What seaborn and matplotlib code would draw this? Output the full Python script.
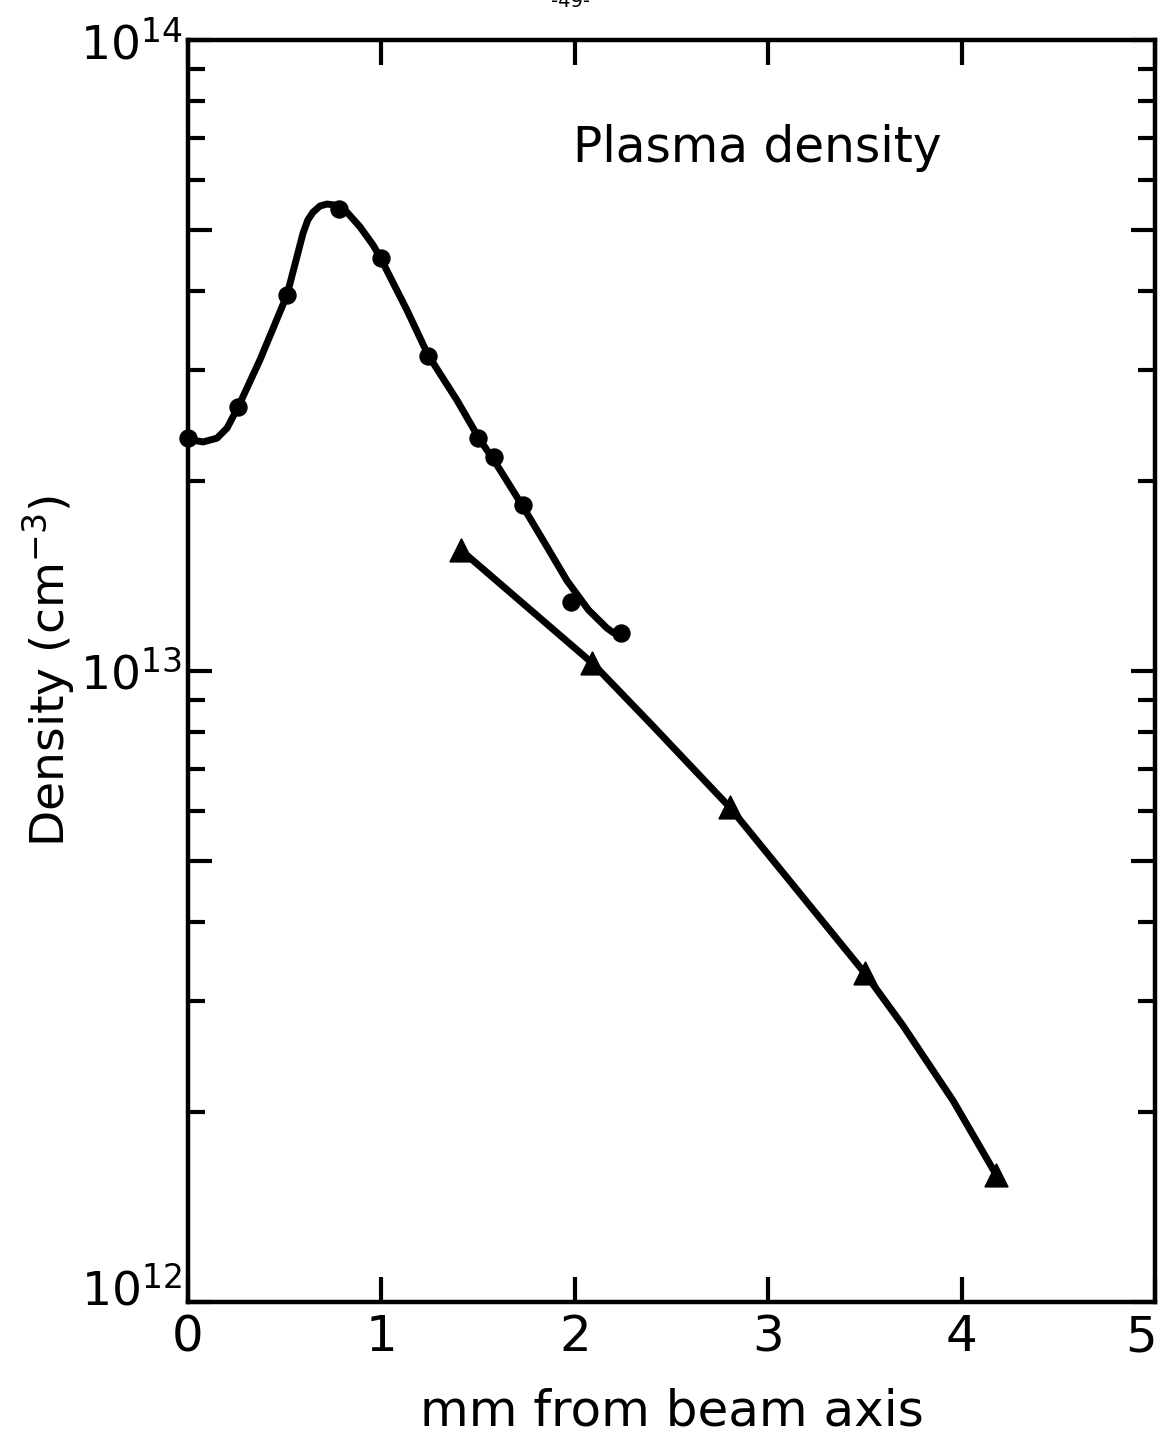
import numpy as np
import pandas as pd
import matplotlib
matplotlib.use("Agg")
import matplotlib.pyplot as plt
import matplotlib.transforms as mtransforms
from matplotlib.ticker import FixedLocator, NullFormatter
import seaborn as sns

# Measured densities (cm^-3) versus distance from the beam axis (mm)
circle_x = [0.0, 0.26, 0.51, 0.78, 1.0, 1.24, 1.50, 1.58, 1.73, 1.98, 2.24]
circle_n = [2.34e13, 2.62e13, 3.95e13, 5.40e13, 4.51e13, 3.16e13,
            2.34e13, 2.18e13, 1.83e13, 1.285e13, 1.15e13]

triangle_x = [1.41, 2.09, 2.80, 3.50, 4.18]
triangle_n = [1.556e13, 1.03e13, 6.09e12, 3.32e12, 1.59e12]

# Hand-drawn guide curves through the measurements (log10 of density)
curve1_x = [0.0, 0.078, 0.150, 0.202, 0.243, 0.259, 0.372, 0.512, 0.595,
            0.620, 0.646, 0.683, 0.719, 0.770, 0.822, 0.889, 0.957, 0.993,
            1.132, 1.241, 1.391, 1.51, 1.582, 1.727, 1.85, 1.96, 2.07,
            2.166, 2.198, 2.244]
curve1_log = [13.367, 13.363, 13.369, 13.385, 13.409, 13.418, 13.493, 13.596,
              13.694, 13.715, 13.727, 13.737, 13.740, 13.738, 13.727, 13.704,
              13.675, 13.656, 13.572, 13.501, 13.429, 13.366, 13.334, 13.263,
              13.200, 13.143, 13.097, 13.068, 13.061, 13.060]

curve2_x = [1.41, 2.09, 2.389, 2.80, 3.50, 3.697, 3.956, 4.18]
curve2_log = [13.192, 13.0127, 12.9176, 12.7845, 12.521, 12.438, 12.319,
              12.201]

x_ticks = [0, 1, 2, 3, 4, 5]
x_ticklabels = ["0", "1", "2", "3", "4", "5"]
y_major = [1e12, 5e12, 1e13, 5e13, 1e14]
y_major_labels = ["$10^{12}$", "", "$10^{13}$", "", "$10^{14}$"]
y_minor = [m * 10.0 ** e for e in (12, 13) for m in (2, 3, 4, 6, 7, 8, 9)]

sns.set_style("ticks")
plt.rcParams["font.family"] = ["DejaVu Sans"]
plt.rcParams["mathtext.fontset"] = "dejavusans"
plt.rcParams["mathtext.default"] = "regular"
for key in ("text.color", "axes.labelcolor", "xtick.color", "ytick.color",
            "axes.edgecolor"):
    plt.rcParams[key] = "black"

fig = plt.figure(figsize=(11.64, 14.38), dpi=100)
ax = fig.add_axes([188 / 1164, 136 / 1438, 967 / 1164, 1262 / 1438])

c1 = pd.DataFrame({"x": curve1_x, "n": 10.0 ** np.array(curve1_log)})
c2 = pd.DataFrame({"x": curve2_x, "n": 10.0 ** np.array(curve2_log)})
pc = pd.DataFrame({"x": circle_x, "n": circle_n})
pt = pd.DataFrame({"x": triangle_x, "n": triangle_n})

sns.lineplot(data=c1, x="x", y="n", sort=False, color="black", lw=5,
             ax=ax, zorder=2)
sns.lineplot(data=c2, x="x", y="n", sort=False, color="black", lw=5,
             ax=ax, zorder=2)
sns.scatterplot(data=pc, x="x", y="n", marker="o", s=150, color="black",
                edgecolor="black", ax=ax, zorder=3, clip_on=False)
sns.scatterplot(data=pt, x="x", y="n", marker="^", s=260, color="black",
                edgecolor="black", ax=ax, zorder=3)

ax.set_yscale("log")
ax.set_xlim(0, 5)
ax.set_ylim(1e12, 1e14)

ax.set_xticks(x_ticks)
ax.set_xticklabels(x_ticklabels)
ax.yaxis.set_major_locator(FixedLocator(y_major))
ax.set_yticklabels(y_major_labels)
ax.yaxis.set_minor_locator(FixedLocator(y_minor))
ax.yaxis.set_minor_formatter(NullFormatter())

ax.tick_params(axis="x", which="major", direction="in", top=True,
               bottom=True, length=18, width=3, labelsize=36, pad=8)
ax.tick_params(axis="y", which="major", direction="in", left=True,
               right=True, length=17, width=3, labelsize=34, pad=4)
ax.tick_params(axis="y", which="minor", direction="in", left=True,
               right=True, length=12, width=3)

# nudge the corner labels so they sit inside the page like the lettering
xl = ax.get_xticklabels()
xl[-1].set_transform(xl[-1].get_transform() +
                     mtransforms.ScaledTranslation(-14 / 100, 0, fig.dpi_scale_trans))
yl = ax.get_yticklabels()
yl[0].set_transform(yl[0].get_transform() +
                    mtransforms.ScaledTranslation(0, 16 / 100, fig.dpi_scale_trans))

for side in ("left", "right", "top", "bottom"):
    ax.spines[side].set_visible(True)
    ax.spines[side].set_linewidth(3.2)
    ax.spines[side].set_color("black")

ax.set_xlabel("mm from beam axis", fontsize=36, labelpad=19)
ax.set_ylabel("Density (cm$^{-3}$)", fontsize=34, labelpad=2)

ax.text(1.99, 6.4e13, "Plasma density", fontsize=35, ha="left",
        va="baseline")

fig.text(570 / 1164, 0.999, "-49-", fontsize=14, ha="center", va="center")

fig.savefig("out.png", dpi=100, facecolor="white")
